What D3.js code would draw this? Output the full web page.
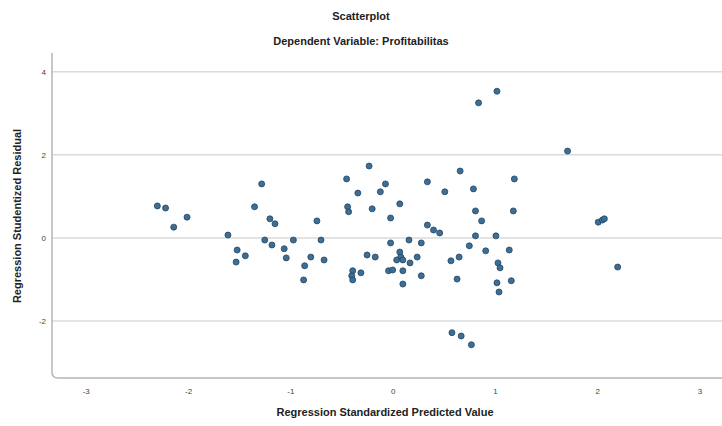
<!DOCTYPE html>
<html>
<head>
<meta charset="utf-8">
<script src="https://cdn.jsdelivr.net/npm/d3@7"></script>
<style>
  body { margin: 0; background: #fff; }
  svg { display: block; font-family: "Liberation Sans", Arial, sans-serif; }
</style>
</head>
<body>
<svg id="chart"></svg>
<script>
// Regression Standardized Predicted Value (x) vs Studentized Residual (y)
const predicted = [
  -2.30, -2.22, -2.01, -2.14, -1.61, -1.52, -1.44, -1.53, -1.28, -1.35,
  -1.20, -1.15, -1.25, -1.18, -1.06, -0.97, -1.04, -0.86, -0.87, -0.80,
  -0.74, -0.70, -0.67, -0.45, -0.34, -0.44, -0.43, -0.23, -0.07, -0.12,
  -0.20, 0.07, -0.02, -0.02, 0.16, 0.28, -0.25, -0.17, 0.07, 0.08,
  0.04, 0.10, 0.24, 0.17, -0.39, -0.31, -0.40, -0.39, -0.04, 0.00,
  0.10, 0.28, 0.10, 0.34, 0.51, 0.66, 0.79, 1.19, 0.81, 1.18,
  0.87, 0.34, 0.40, 0.46, 0.81, 1.01, 0.75, 0.91, 1.14, 0.65,
  0.57, 1.03, 1.05, 0.63, 1.02, 1.16, 1.04, 1.02, 0.84, 0.58,
  0.67, 0.77, 1.71, 2.01, 2.05, 2.07, 2.20
];
const residual = [
  0.77, 0.72, 0.50, 0.26, 0.07, -0.29, -0.43, -0.58, 1.30, 0.75,
  0.46, 0.34, -0.05, -0.17, -0.26, -0.05, -0.48, -0.67, -1.01, -0.46,
  0.41, -0.05, -0.53, 1.42, 1.08, 0.75, 0.63, 1.73, 1.30, 1.11,
  0.70, 0.82, 0.48, -0.12, -0.05, -0.12, -0.41, -0.46, -0.34, -0.46,
  -0.53, -0.53, -0.46, -0.60, -0.79, -0.84, -0.91, -1.01, -0.79, -0.77,
  -0.79, -0.91, -1.11, 1.35, 1.11, 1.61, 1.18, 1.42, 0.65, 0.65,
  0.41, 0.31, 0.19, 0.12, 0.05, 0.05, -0.19, -0.31, -0.29, -0.46,
  -0.55, -0.60, -0.72, -0.99, -1.08, -1.03, -1.30, 3.53, 3.25, -2.28,
  -2.36, -2.57, 2.09, 0.38, 0.43, 0.46, -0.70
];
const xTicks = [-3, -2, -1, 0, 1, 2, 3];
const yTicks = [-2, 0, 2, 4];

const width = 722, height = 426;
const margin = { top: 53, right: 0, bottom: 48, left: 52 };

const svg = d3.select("#chart")
    .attr("width", width)
    .attr("height", height);

const x = d3.scaleLinear()
    .domain([-3.33, 3.22])
    .range([margin.left, width - margin.right]);

const y = d3.scaleLinear()
    .domain([-3.37, 4.45])
    .range([height - margin.bottom, margin.top]);

// Titles
svg.append("text")
    .attr("x", 361).attr("y", 20)
    .attr("text-anchor", "middle")
    .attr("font-size", 11).attr("font-weight", "bold").attr("fill", "#222")
    .text("Scatterplot");

svg.append("text")
    .attr("x", 361).attr("y", 45)
    .attr("text-anchor", "middle")
    .attr("font-size", 11).attr("font-weight", "bold").attr("fill", "#222")
    .text("Dependent Variable: Profitabilitas");

// Gridlines
svg.append("g")
    .selectAll("line")
    .data(yTicks)
    .join("line")
    .attr("x1", margin.left)
    .attr("x2", width - margin.right)
    .attr("y1", d => y(d))
    .attr("y2", d => y(d))
    .attr("stroke", "#dadada")
    .attr("stroke-width", 1.5);

// Frame (left + bottom) with rounded corner
const x0 = margin.left, yb = height - margin.bottom;
svg.append("path")
    .attr("d", `M${x0},${margin.top}V${yb - 6}Q${x0},${yb} ${x0 + 6},${yb}H${width}`)
    .attr("fill", "none")
    .attr("stroke", "#b5b5b5")
    .attr("stroke-width", 1.5);

// Axes
const fmt = d => String(d);

const xAxis = svg.append("g")
    .attr("transform", `translate(0,${yb})`)
    .call(d3.axisBottom(x).tickValues(xTicks).tickFormat(fmt).tickSize(0).tickPadding(10));
xAxis.select(".domain").remove();

const yAxis = svg.append("g")
    .attr("transform", `translate(${x0},0)`)
    .call(d3.axisLeft(y).tickValues(yTicks).tickFormat(fmt).tickSize(0).tickPadding(6));
yAxis.select(".domain").remove();

svg.selectAll(".tick text")
    .attr("font-size", 8)
    .attr("fill", "#444")
    .attr("font-family", "Liberation Sans, Arial, sans-serif");

// Axis titles
svg.append("text")
    .attr("x", 385).attr("y", 416)
    .attr("text-anchor", "middle")
    .attr("font-size", 11).attr("font-weight", "bold").attr("fill", "#222")
    .text("Regression Standardized Predicted Value");

svg.append("text")
    .attr("transform", "translate(21,216) rotate(-90)")
    .attr("text-anchor", "middle")
    .attr("font-size", 11).attr("font-weight", "bold").attr("fill", "#222")
    .text("Regression Studentized Residual");

// Points
const points = predicted.map((p, i) => ({ px: p, r: residual[i] }));

svg.append("g")
    .selectAll("circle")
    .data(points)
    .join("circle")
    .attr("cx", d => x(d.px))
    .attr("cy", d => y(d.r))
    .attr("r", 3)
    .attr("fill", "#3d6f96")
    .attr("stroke", "#24445f")
    .attr("stroke-width", 0.8);
</script>
</body>
</html>
